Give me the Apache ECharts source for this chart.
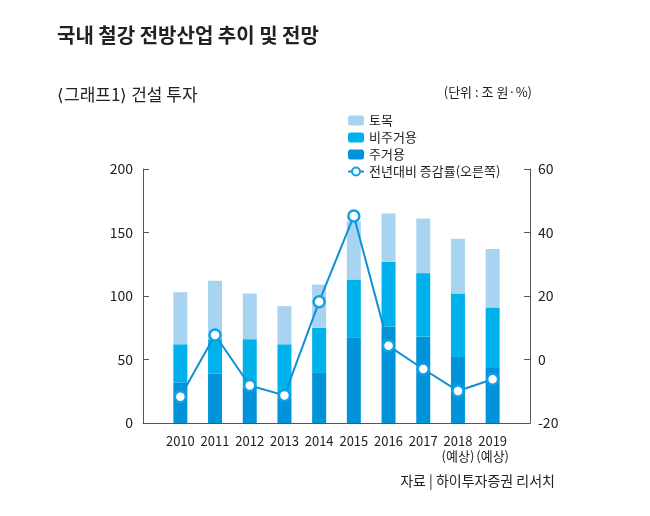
<!DOCTYPE html>
<html>
<head>
<meta charset="utf-8">
<script src="https://cdn.jsdelivr.net/npm/echarts@6/dist/echarts.min.js"></script>
<style>
  html, body { margin: 0; padding: 0; background: #fff; }
  #chart { width: 650px; height: 516px; }
</style>
</head>
<body>
<div id="chart"></div>
<script>
const years = ["2010", "2011", "2012", "2013", "2014", "2015", "2016", "2017", "2018\n(예상)", "2019\n(예상)"];
const housing = [32, 39, 28, 20, 40, 67, 76, 68, 52, 44];      // 주거용
const nonHousing = [30, 27, 38, 42, 35, 46, 51, 50, 50, 47];   // 비주거용
const civil = [41, 46, 36, 30, 34, 46, 38, 43, 43, 46];        // 토목
const growth = [-11.7, 7.7, -8.2, -11.3, 18.2, 45.2, 4.3, -3.0, -9.9, -6.2]; // 전년대비 증감률

const font = "'Noto Sans CJK KR', 'Noto Sans', sans-serif";
const axisColor = "#555";
const textColor = "#222";

const chart = echarts.init(document.getElementById("chart"));

chart.setOption({
  textStyle: { fontFamily: font },
  animation: false,
  title: [
    { text: "국내 철강 전방산업 추이 및 전망", left: 57, top: 25, padding: 0,
      textStyle: { fontSize: 20, fontWeight: "bold", color: textColor, fontFamily: font } },
    { text: "⟨그래프1⟩ 건설 투자", left: 57, top: 86, padding: 0,
      textStyle: { fontSize: 17, fontWeight: "normal", color: textColor, fontFamily: font } },
    { text: "(단위 : 조 원·%)", right: 118, top: 86, padding: 0,
      textStyle: { fontSize: 13, fontWeight: "normal", color: textColor, fontFamily: font } },
    { text: "자료 | 하이투자증권 리서치", right: 95, top: 474, padding: 0,
      textStyle: { fontSize: 14, fontWeight: "normal", color: textColor, fontFamily: font } }
  ],
  legend: {
    orient: "vertical",
    left: 342,
    top: 109,
    itemWidth: 16,
    itemHeight: 10,
    itemGap: 4,
    data: ["토목", "비주거용", "주거용", "전년대비 증감률(오른쪽)"],
    textStyle: { fontSize: 13, color: textColor, fontFamily: font }
  },
  grid: [
    { left: 163, right: 140, top: 169, bottom: 93 },
    { left: 143, right: 120, top: 169, bottom: 93 }
  ],
  xAxis: [
    {
      type: "category",
      data: years,
      gridIndex: 0,
      axisLine: { show: false },
      axisTick: { show: false },
      axisLabel: { color: textColor, fontSize: 13, margin: 11, lineHeight: 15, interval: 0 }
    },
    {
      type: "value",
      gridIndex: 1,
      min: 0,
      max: 1,
      axisLine: { show: true, lineStyle: { color: axisColor } },
      axisTick: { show: false },
      axisLabel: { show: false },
      splitLine: { show: false }
    }
  ],
  yAxis: [
    {
      type: "value",
      gridIndex: 0,
      min: 0,
      max: 200,
      interval: 50,
      offset: 20,
      axisLine: { show: true, lineStyle: { color: axisColor } },
      axisTick: { show: true, inside: true, length: 6, lineStyle: { color: axisColor } },
      axisLabel: { color: textColor, fontSize: 14, margin: 10 },
      splitLine: { show: false }
    },
    {
      type: "value",
      gridIndex: 0,
      position: "right",
      min: -20,
      max: 60,
      interval: 20,
      offset: 20,
      axisLine: { show: true, lineStyle: { color: axisColor } },
      axisTick: { show: true, inside: true, length: 6, lineStyle: { color: axisColor } },
      axisLabel: { color: textColor, fontSize: 14, margin: 8 },
      splitLine: { show: false }
    },
    {
      type: "value",
      gridIndex: 1,
      show: false
    }
  ],
  series: [
    { name: "주거용", type: "bar", stack: "total", data: housing, barWidth: 14,
      itemStyle: { color: "#0093da" } },
    { name: "비주거용", type: "bar", stack: "total", data: nonHousing, barWidth: 14,
      itemStyle: { color: "#00b2ec" } },
    { name: "토목", type: "bar", stack: "total", data: civil, barWidth: 14,
      itemStyle: { color: "#a9d4f1" } },
    {
      name: "전년대비 증감률(오른쪽)",
      type: "line",
      yAxisIndex: 1,
      data: growth,
      symbol: "circle",
      symbolSize: 11,
      lineStyle: { color: "#0f8fd6", width: 2 },
      itemStyle: { color: "#fff", borderColor: "#12a0e4", borderWidth: 2.5 },
      z: 5
    }
  ]
});
</script>
</body>
</html>
